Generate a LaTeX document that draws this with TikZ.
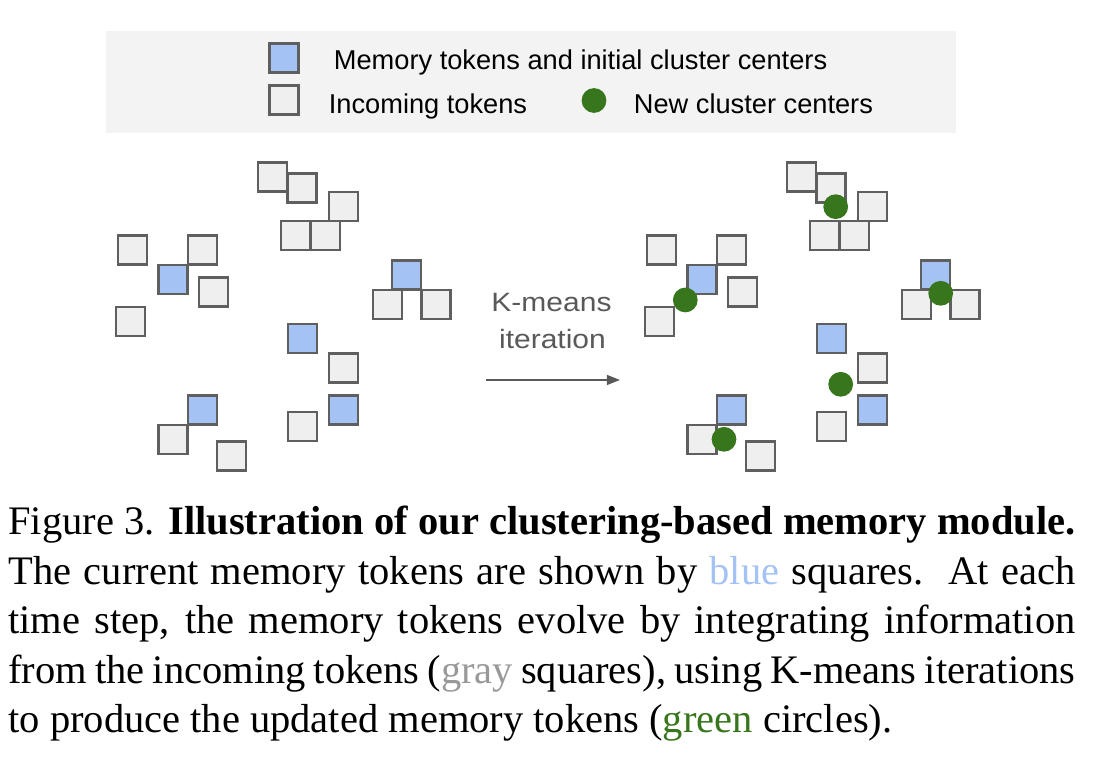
\documentclass[tikz,border=0pt]{standalone}
\usepackage{fontspec}
\setmainfont{Liberation Serif}
\newfontfamily\arialf{Liberation Sans}
\usetikzlibrary{arrows.meta}
\definecolor{sqborder}{HTML}{5F5F5F}
\definecolor{sqgray}{HTML}{EFEFEF}
\definecolor{sqblue}{HTML}{A4C2F4}
\definecolor{cgreen}{HTML}{38761D}
\definecolor{legendbg}{HTML}{F3F3F3}
\definecolor{capgray}{HTML}{999999}
\definecolor{arrowgray}{HTML}{595959}
\tikzset{
  gsq/.style={draw=sqborder, fill=sqgray, line width=0.5pt, minimum size=6.45pt, inner sep=0pt, outer sep=0pt},
  bsq/.style={gsq, fill=sqblue},
  gdot/.style={circle, fill=cgreen, minimum size=5.5pt, inner sep=0pt, outer sep=0pt},
  legtext/.style={anchor=base west, inner sep=0pt, font=\arialf\fontsize{6.05}{7.2}\selectfont},
  ktext/.style={anchor=base, inner sep=0pt, text=arrowgray},
}
\newcommand{\kfont}[1]{\scalebox{1.13}[1]{\arialf\fontsize{5.9}{7}\selectfont #1}}
\begin{document}
\begin{tikzpicture}[x=0.22222pt, y=-0.22222pt]
\useasboundingbox (0,0) rectangle (1098,762);
% legend
\node[fill=legendbg, minimum width=850*0.22222pt, minimum height=102*0.22222pt, inner sep=0pt, anchor=north west] (legend) at (105,30) {};
\node[bsq] (legb) at (284,58) {};
\node[gsq] (legg) at (284,100) {};
\node[gdot] (legc) at (594,100.5) {};
\node[legtext] (legt1) at (333,69.5) {Memory tokens and initial cluster centers};
\node[legtext] (legt2) at (328,113.5) {Incoming tokens};
\node[legtext] (legt3) at (633,113.5) {New cluster centers};
% left clusters
\foreach \name/\px/\py/\st in {
  l1/272.7/177/gsq, l2/302/188/gsq, l3/343.3/206.3/gsq, l4/295.7/235.7/gsq, l5/325.3/235.7/gsq,
  l6/132.7/250/gsq, l7/202.3/250/gsq, l8/173/279.7/bsq, l9/213.7/292/gsq, l10/130.3/321.3/gsq,
  l11/406.7/275/bsq, l12/387.3/304.7/gsq, l13/436/304.7/gsq,
  l14/302.2/338.5/bsq, l15/343.5/368/gsq, l16/343.5/410/bsq, l17/302.2/426.7/gsq,
  l18/202.3/410/bsq, l19/173/439.5/gsq, l20/231.7/456/gsq}
  {\node[\st] (\name) at (\px,\py) {};}
% right clusters
\foreach \name/\px/\py/\st in {
  r1/272.7/177/gsq, r2/302/188/gsq, r3/343.3/206.3/gsq, r4/295.7/235.7/gsq, r5/325.3/235.7/gsq,
  r6/132.7/250/gsq, r7/202.3/250/gsq, r8/173/279.7/bsq, r9/213.7/292/gsq, r10/130.3/321.3/gsq,
  r11/406.7/275/bsq, r12/387.3/304.7/gsq, r13/436/304.7/gsq,
  r14/302.2/338.5/bsq, r15/343.5/368/gsq, r16/343.5/410/bsq, r17/302.2/426.7/gsq,
  r18/202.3/410/bsq, r19/173/439.5/gsq, r20/231.7/456/gsq}
  {\node[\st] (\name) at (\px+529,\py) {};}
% new cluster centers
\node[gdot] (c1) at (835.7,206.7) {};
\node[gdot] (c2) at (685.3,300) {};
\node[gdot] (c3) at (940.7,293.3) {};
\node[gdot] (c4) at (840.7,384.3) {};
\node[gdot] (c5) at (724,439.3) {};
% arrow
\node[ktext] (k1) at (551.5,312) {\kfont{K-means}};
\node[ktext] (k2) at (552.5,348.3) {\kfont{iteration}};
\coordinate (a1) at (486,380);
\coordinate (a2) at (620,380);
\draw[arrowgray, line width=0.35pt, -{Triangle[length=2.9pt, width=2.2pt]}] (a1) -- (a2);
% caption
\node[anchor=base west, inner sep=0pt] (caption) at (7.5,535) {\parbox[t]{237.13pt}{\fontsize{9}{11}\selectfont
Figure 3. \textbf{Illustration of our clustering-based memory module.}\linebreak
The current memory tokens are shown by {\color{sqblue}blue} squares.\ \ At each\linebreak
time step, the memory tokens evolve by integrating information\linebreak
from the incoming tokens ({\color{capgray}gray} squares), using K-means iterations\linebreak
to produce the updated memory tokens ({\color{cgreen}green} circles).}};
\end{tikzpicture}
\end{document}
